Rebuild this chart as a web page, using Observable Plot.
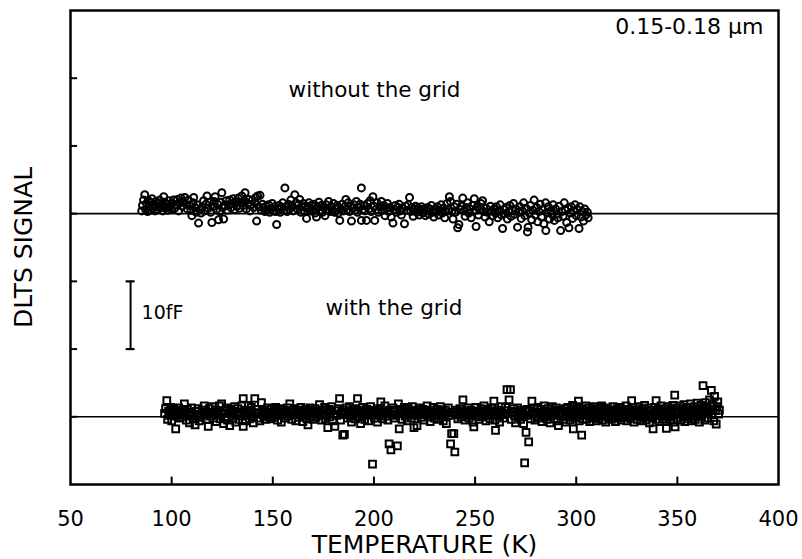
<!DOCTYPE html>
<html><head><meta charset="utf-8">
<script src="https://cdn.jsdelivr.net/npm/d3@7"></script>
<script src="https://cdn.jsdelivr.net/npm/@observablehq/plot@0.6"></script>
<style>html,body{margin:0;padding:0;background:#fff;} svg{display:block;}</style>
</head><body><div id="chart"></div>
<script>
// Temperature axis ticks (K)
const tempTicks = [50, 100, 150, 200, 250, 300, 350, 400];
const innerTempTicks = [100, 150, 200, 250, 300, 350];
// Signal ticks (fF, arbitrary offset; 10 fF per division)
const signalTicks = [10, 20, 30, 40, 50, 60];
// Baselines of the two traces (fF)
const baselineWithout = 40;
const baselineWith = 10;
const baselines = [baselineWithout, baselineWith];
// Scale bar: 10 fF
const scaleBarLow = 20, scaleBarHigh = 30;

// [temperature K, signal offset fF] — without the grid (circles)
const withoutGrid = [
[85.2,0.4],[85.6,1.2],[86.1,2.0],[86.7,2.8],[87.2,0.6],[87.6,1.5],[88.1,0.3],[88.5,1.9],[89.0,1.1],[89.4,0.5],[89.9,1.6],[90.3,2.2],[90.8,0.8],[91.3,1.3],[91.8,0.4],[92.2,1.8],[92.7,1.0],[93.2,0.6],[93.6,1.5],[94.1,2.0],[94.6,0.9],[95.1,1.3],[95.6,0.4],[96.1,2.5],[96.6,1.7],[97.1,0.8],[97.6,1.4],[98.1,0.5],[98.6,1.9],[99.2,1.0],[99.8,0.6],
[100.3,1.5],[100.9,2.0],[101.5,0.8],[102.1,1.3],[102.8,2.1],[103.4,0.4],[104.0,1.6],[104.6,2.3],[105.2,1.1],[105.8,1.8],[106.5,2.4],[107.1,1.4],[107.7,0.7],[108.3,2.0],[108.9,1.2],[109.5,0.5],[110.0,-0.3],[110.6,1.6],[110.9,2.4],[111.5,0.9],[112.1,0.2],
[112.7,1.3],[113.3,-1.4],[113.9,0.6],[114.5,0.1],[115.1,1.0],[115.8,1.9],[116.4,0.4],[117.0,1.4],[117.5,2.6],[118.1,0.8],[118.7,1.7],[119.3,0.2],[119.9,-1.3],[120.5,1.1],[121.0,1.8],[121.5,2.5],[122.1,0.6],[122.7,1.4],[123.2,-0.9],[123.8,0.3],[124.3,1.7],[124.8,3.1],[125.3,0.9],[125.7,-0.8],[126.3,1.2],
[126.9,1.9],[127.5,0.5],[128.1,1.3],[128.7,2.0],[129.3,0.9],[129.9,1.5],[130.5,2.2],[131.1,0.6],[131.7,1.8],[132.3,1.1],[132.9,2.3],[133.5,0.8],[134.1,1.6],[134.7,2.6],[135.3,1.2],[135.9,1.9],[136.3,3.1],[136.9,0.7],[137.5,1.5],[138.1,2.1],[138.7,0.4],[139.3,1.3],[139.9,2.0],[140.5,0.9],[141.1,1.6],[141.6,2.4],[142.0,-1.1],[142.5,2.6],[143.1,1.0],[143.7,2.7],[144.3,0.5],[144.9,1.4],
[145.5,0.9],[146.1,0.3],[146.7,1.1],[147.3,0.6],[147.9,1.3],[148.5,0.2],[149.1,0.8],[149.7,1.5],[150.3,0.4],[150.9,1.0],[151.5,0.3],[151.9,-1.6],[152.5,0.7],[153.1,1.2],[153.7,0.2],[154.3,0.9],[154.9,1.6],[155.5,0.5],[156.0,3.8],[156.5,1.0],[157.1,0.3],[157.7,1.4],[158.3,0.7],[158.9,2.0],[159.5,1.1],[160.1,0.4],[160.9,2.8],[161.5,1.6],[162.1,0.7],[162.7,1.3],[163.3,2.1],[163.9,0.2],[164.5,1.0],
[165.1,1.5],[165.7,0.3],[166.3,1.1],[166.7,-0.7],[167.3,0.8],[167.9,1.6],[168.5,0.4],[169.1,1.2],[169.7,0.6],[170.3,1.4],[170.9,0.1],[171.6,-0.5],[172.2,1.0],[172.8,1.7],[173.4,0.5],[174.0,1.2],[174.6,0.2],[175.2,0.9],[175.8,-0.3],[176.4,1.3],[177.0,0.6],[177.6,1.8],[178.2,0.3],[178.8,1.0],[179.4,0.5],[180.0,1.5],[180.6,0.2],[181.2,0.8],[181.8,1.2],[182.4,0.1],[183.1,-1.0],[183.7,0.7],[184.3,1.4],[184.9,0.4],[185.5,1.0],[186.1,2.1],[186.7,0.6],[187.3,1.6],[187.9,0.3],[188.5,1.1],[188.9,-1.1],[189.5,0.8],[190.1,1.3],[190.7,0.5],[191.3,1.8],[191.9,0.2],[192.5,0.9],[193.1,1.4],[193.8,3.8],[193.8,-1.0],[194.4,0.6],[195.0,1.2],
[195.6,0.4],[196.3,-1.0],[196.9,1.5],[197.5,0.7],[198.1,1.9],[198.7,0.3],[199.5,2.5],[200.0,1.1],[200.4,-1.0],[201.0,0.6],[201.6,1.6],[202.2,0.2],[202.8,1.0],[203.7,1.8],[204.3,0.5],[204.9,1.2],[205.5,-0.3],[206.1,0.8],[206.7,1.5],[207.3,0.3],[207.9,0.9],[208.5,-0.5],[209.4,-1.4],[210.0,0.6],[210.6,1.2],[211.2,0.2],[211.8,0.9],[212.4,1.4],[213.0,0.4],[213.6,-0.2],[214.2,0.8],[215.1,-1.5],[215.7,1.1],[216.3,0.5],[216.9,1.3],[217.6,2.4],[218.2,0.3],[218.8,0.9],[219.4,-0.4],[220.0,0.6],
[220.6,1.1],[221.2,0.2],[221.8,0.8],[222.4,-0.2],[223.0,0.5],[223.6,1.0],[224.2,0.1],[224.8,0.7],[225.4,-0.3],[226.0,0.4],[226.6,0.9],[227.2,-0.1],[227.8,0.6],[228.4,1.2],[229.0,0.2],[229.6,-0.5],[230.2,0.7],[230.8,0.3],[231.4,1.0],[232.0,-0.2],[232.6,0.5],[233.2,1.3],[233.8,0.1],[234.4,0.8],[235.0,-0.6],[235.6,0.4],[236.2,1.5],[236.8,0.6],[237.3,2.5],[237.9,1.8],[238.5,0.3],[239.1,-0.8],[239.7,1.0],[240.3,0.2],[240.9,1.4],[241.4,-2.1],[242.0,-1.6],[242.6,0.6],[243.2,1.1],[243.9,2.3],[244.5,0.4],[245.1,-0.4],
[245.7,0.9],[246.3,1.6],[246.9,0.1],[247.5,0.7],[248.1,-0.6],[248.7,1.2],[249.6,2.2],[250.2,0.5],[250.5,-1.9],[251.1,1.0],[251.7,-0.2],[252.3,0.6],[252.9,1.5],[253.7,1.9],[254.3,0.3],[254.9,-0.5],[255.5,0.8],[256.1,0.2],[257.0,-1.2],[257.6,1.1],[258.2,0.4],[258.8,-0.3],[259.4,0.7],[260.0,0.1],[260.6,1.0],[261.2,-0.6],[261.8,0.5],[262.4,1.3],[263.0,-0.2],[263.6,-2.2],[264.2,0.6],[264.8,0.0],[265.4,0.9],[266.0,-0.8],[266.6,0.3],[267.2,1.2],[267.8,-0.4],[268.4,0.5],[269.0,1.5],[269.6,-0.1],[270.2,0.7],
[271.0,-2.0],[271.6,0.2],[272.2,1.0],[272.8,-0.7],[273.4,0.4],[274.0,1.6],[274.6,-0.3],[275.2,0.8],[275.9,-2.7],[276.2,-2.0],[276.8,0.1],[277.4,1.2],[278.0,-0.9],[278.6,0.5],[279.2,2.0],[279.8,-0.2],[280.4,0.9],[281.0,-1.2],[281.6,0.3],[282.2,1.4],[282.8,-0.5],[283.4,0.6],[284.0,-1.5],[284.9,1.6],[285.0,-2.5],[285.6,0.2],[286.2,1.0],[286.8,-0.8],[287.4,0.4],[288.0,-0.1],[288.6,1.3],[289.2,-1.0],[289.8,0.7],[290.4,0.0],[291.0,-0.6],[291.6,1.1],[292.3,-2.5],[292.9,0.3],[293.5,-0.4],[294.1,1.6],[294.7,0.5],[295.3,-1.3],[295.9,0.8],[296.4,-2.1],[297.0,0.1],[297.6,1.0],[298.2,-0.7],[298.8,0.4],[299.4,1.3],[300.0,-0.3],[300.6,0.6],[301.4,-2.2],[301.8,1.0],[302.4,-0.5],[303.0,0.3],[303.6,-1.1],[304.2,0.7],[304.8,-0.2],[305.5,0.2],[305.9,-0.6]
];

// [temperature K, signal offset fF] — with the grid (squares)
const withGrid = [
[96.5,0.5],[97.0,1.2],[97.6,2.4],[98.0,-0.4],[98.5,0.8],[99.0,0.2],[99.5,1.4],[100.0,-0.6],[100.5,0.7],[101.0,1.1],[101.5,0.1],[102.0,-1.8],[102.5,0.9],[103.0,0.3],[103.5,1.3],[104.0,-0.2],[104.5,0.6],[105.0,1.0],[105.5,0.0],[106.3,1.9],[106.8,0.5],[107.3,-0.5],[107.8,1.1],[108.3,0.3],[108.8,-0.9],[109.3,0.7],[109.8,1.3],[110.3,0.2],[110.8,-0.3],[111.6,-1.2],[112.1,0.8],[112.6,0.1],[113.1,1.2],[113.6,-0.6],[114.1,0.4],[114.6,-0.1],[115.1,1.0],[116.1,1.6],[116.6,0.3],[117.1,-0.4],[117.6,0.7],[118.1,-1.4],[118.6,1.2],[119.1,0.1],[119.6,0.6],
[120.1,1.5],[120.6,-0.2],[121.1,0.4],[121.6,1.0],[122.1,-0.7],[122.6,0.2],[123.1,0.8],[123.6,1.6],[124.1,-0.3],[124.7,1.9],[125.2,0.5],[125.7,-1.0],[126.2,0.9],[126.7,0.0],[127.2,1.3],[127.7,-0.5],[128.2,0.6],[128.7,-1.3],[129.2,1.1],[129.7,0.3],[130.2,-0.2],[130.7,0.8],[131.2,1.5],[131.7,-0.8],[132.2,0.4],[132.7,1.2],[133.2,-0.4],[133.7,0.7],[134.2,0.1],[134.7,1.6],[135.4,2.7],[135.4,-1.4],[135.9,0.5],[136.4,-0.6],[136.9,1.0],[137.4,0.2],[137.9,1.7],[138.4,-0.3],[138.9,0.9],[139.4,1.4],[139.9,0.0],[140.4,-0.9],[141.1,2.7],[141.6,0.6],[142.1,1.1],[142.6,-0.2],[143.1,0.4],[143.6,-0.6],[144.4,2.1],[144.9,0.8],
[145.4,0.2],[145.9,1.0],[146.4,-0.4],[146.9,0.6],[147.4,1.3],[147.9,0.0],[148.4,0.7],[148.9,-0.3],[149.4,1.1],[149.9,0.4],[150.4,-0.1],[150.9,0.9],[151.4,1.4],[151.9,0.2],[152.4,-0.5],[152.9,0.7],[153.4,1.2],[154.2,-0.8],[154.7,0.3],[155.2,1.0],[155.7,0.5],[156.2,-0.2],[156.7,0.8],[157.2,1.3],[157.7,0.1],[158.4,1.9],[158.9,0.6],[159.4,-0.4],[159.9,0.9],[160.4,0.3],[160.9,1.2],[161.4,-0.6],[161.9,0.5],[162.4,1.0],[162.9,-0.1],[163.4,0.7],[163.9,1.4],[164.4,0.2],[164.9,-0.7],[165.4,0.8],[165.9,0.4],[166.4,1.1],[166.9,-0.3],[167.4,-1.2],[167.9,0.6],[168.4,1.3],[168.9,0.1],[169.4,0.9],[169.9,-0.4],
[170.4,0.5],[170.9,1.2],[171.4,-0.1],[171.9,0.7],[172.4,0.3],[173.1,1.8],[173.6,0.4],[174.1,-0.5],[174.6,1.0],[175.1,0.2],[175.6,1.4],[176.1,-0.3],[176.6,0.6],[177.2,-1.6],[177.7,1.1],[178.2,0.0],[178.7,0.8],[179.2,1.5],[179.7,-0.6],[180.2,0.4],[180.7,-1.4],[181.2,0.9],[181.7,0.2],[182.2,1.2],[183.0,2.7],[183.5,-0.5],[184.0,0.6],[184.6,-2.7],[185.0,1.0],[185.4,-2.6],[185.9,0.3],[186.4,1.3],[186.9,-0.2],[187.4,0.7],[187.9,1.5],[188.4,0.1],[188.9,-0.8],[189.4,0.9],[189.9,0.4],[190.4,1.2],[190.9,-0.3],[191.4,0.6],[191.9,2.7],[192.4,1.0],[192.9,0.0],[193.4,-1.0],[193.9,0.8],[194.4,1.4],[194.9,0.3],
[195.4,-0.4],[195.9,0.7],[196.4,1.1],[196.9,0.2],[197.4,-0.6],[197.9,0.9],[198.4,1.5],[198.9,0.4],[199.3,-7.0],[199.8,0.6],[200.3,-0.2],[200.8,1.0],[201.3,0.3],[201.8,-0.8],[202.3,0.8],[202.8,1.2],[203.4,2.2],[203.9,0.5],[204.4,-0.3],[204.9,0.9],[205.4,1.6],[205.9,0.1],[206.4,0.7],[206.9,-0.5],[207.5,-4.0],[208.0,1.0],[208.4,-4.9],[208.9,0.4],[209.4,1.3],[209.9,-0.2],[210.4,0.8],[210.9,0.2],[211.6,-4.3],[212.1,1.9],[212.5,-1.8],[213.0,0.6],[213.5,1.1],[214.0,-0.4],[214.5,0.5],[215.0,1.4],[215.5,0.1],[216.0,0.8],[216.5,-0.6],[217.0,1.2],[217.5,0.3],[218.0,0.9],[218.5,-0.2],[219.0,1.5],[219.8,-1.6],
[220.3,0.7],[220.8,0.2],[221.3,-1.3],[221.8,1.0],[222.3,0.4],[222.8,1.3],[223.3,-0.1],[223.8,0.6],[224.3,1.1],[224.8,-0.5],[225.3,0.3],[225.8,0.9],[226.3,1.6],[226.8,0.0],[227.3,0.6],[227.8,-0.7],[228.3,1.0],[228.8,0.4],[229.3,1.4],[229.8,-0.2],[230.3,0.7],[230.8,0.2],[231.3,1.1],[231.8,-0.4],[232.3,0.5],[232.8,1.5],[233.3,0.1],[233.8,0.8],[234.3,-0.6],[234.8,0.4],[235.3,1.0],[235.8,-1.0],[236.3,0.6],[236.8,1.3],[237.3,0.2],[237.9,-4.0],[238.4,-2.5],[238.9,0.7],[239.5,-2.5],[240.0,-5.2],[240.5,0.3],[241.0,1.0],[241.5,-0.3],[242.0,0.6],[242.5,1.2],[243.0,0.0],[243.5,0.8],[244.0,2.5],[244.5,0.4],[245.0,-0.5],
[245.5,0.9],[246.0,0.2],[246.5,1.3],[247.0,-0.2],[247.5,0.6],[248.0,1.0],[248.5,0.3],[249.0,-0.8],[249.4,-1.5],[249.9,0.7],[250.4,1.4],[250.9,0.1],[251.4,0.8],[251.9,-0.4],[252.4,0.5],[252.9,1.2],[253.4,0.0],[253.9,0.9],[254.4,1.6],[254.9,0.3],[255.4,-0.6],[255.9,0.7],[256.4,1.1],[256.9,0.2],[257.4,-0.3],[257.9,0.8],[258.4,1.3],[258.9,0.4],[259.3,2.3],[259.8,-0.5],[260.1,-2.0],[260.6,0.6],[261.1,1.0],[261.6,0.1],[262.1,-0.8],[262.6,0.7],[263.1,1.5],[263.6,0.3],[264.1,-0.2],[264.6,0.9],[265.1,1.4],[265.8,4.0],[266.3,0.5],[266.8,2.5],[267.5,4.0],[268.0,-0.4],[268.5,0.8],[269.0,1.2],[269.5,0.2],[270.0,-0.9],
[270.5,0.6],[271.0,1.3],[271.5,0.0],[272.0,0.7],[272.5,-0.4],[273.0,1.0],[273.5,0.3],[274.0,-1.0],[274.5,-6.8],[274.8,0.8],[275.2,-2.3],[275.7,1.1],[276.2,0.2],[276.5,-3.7],[277.0,0.9],[277.5,-0.3],[278.1,2.3],[278.6,0.5],[279.1,1.2],[279.6,-0.5],[280.1,0.7],[280.6,0.1],[281.1,1.4],[281.6,-0.2],[282.1,0.6],[282.6,1.1],[283.1,-0.7],[283.6,0.4],[284.1,1.6],[284.6,0.0],[285.1,0.8],[285.6,-0.4],[286.1,1.2],[286.6,0.3],[287.1,-0.9],[287.6,0.7],[288.1,1.5],[288.6,0.2],[289.1,-0.3],[289.6,0.9],[290.1,1.3],[290.6,-0.6],[291.2,-1.3],[291.7,0.5],[292.2,1.0],[292.7,0.1],[293.2,0.7],[293.7,-0.4],[294.2,1.2],[294.7,0.4],
[295.0,-0.8],[295.4,0.6],[295.8,1.4],[296.2,0.0],[296.6,0.8],[297.0,-0.5],[297.4,1.1],[297.8,0.3],[298.2,1.7],[298.6,-1.8],[299.0,0.5],[299.4,-0.2],[299.8,0.9],[300.2,1.5],[300.6,0.1],[301.1,2.3],[301.5,-0.6],[301.9,0.7],[302.3,1.2],[302.7,-2.7],[303.1,0.3],[303.5,-0.3],[303.9,1.0],[304.3,0.5],[304.7,1.6],[305.1,-0.4],[305.5,0.8],[305.9,0.2],[306.3,1.3],[306.7,-0.7],[307.1,0.6],[307.5,1.0],[307.9,-0.2],[308.3,0.4],[308.7,1.5],[309.1,0.0],[309.5,0.8],[309.9,-0.6],[310.3,1.2],[310.7,0.3],[311.1,-0.3],[311.5,0.9],[311.9,1.4],[312.3,0.1],[312.6,1.6],[313.0,-0.5],[313.4,0.7],[313.8,0.2],[314.2,1.1],[314.6,-0.8],[315.0,0.5],[315.4,1.3],[315.8,-0.1],[316.2,0.8],[316.6,0.3],[317.0,1.0],[317.4,-0.4],[317.8,0.6],[318.2,1.5],[318.6,0.0],[319.0,0.9],[319.4,-0.7],[319.8,0.4],
[320.2,1.2],[320.6,-0.2],[321.0,0.7],[321.4,0.2],[321.8,1.4],[322.2,-0.5],[322.6,0.5],[323.0,1.0],[323.4,-0.1],[323.8,0.8],[324.2,0.3],[324.6,1.6],[325.0,-0.6],[325.4,0.6],[325.8,1.1],[326.2,0.0],[326.6,0.9],[327.0,-0.3],[327.4,2.4],[327.8,0.4],[328.2,1.3],[328.6,-0.8],[329.0,0.7],[329.4,0.1],[329.8,1.0],[330.2,-0.4],[330.6,0.5],[331.0,1.5],[331.4,0.2],[331.8,-0.6],[332.2,0.8],[332.6,1.2],[333.0,-0.1],[333.4,0.6],[333.8,1.7],[334.2,0.3],[334.6,-0.5],[335.0,0.9],[335.4,0.0],[335.8,1.3],[336.2,-0.9],[336.6,0.4],[337.0,1.0],[337.4,-0.2],[338.0,-1.8],[338.4,0.7],[338.8,1.4],[339.2,0.2],[339.5,2.4],[339.9,-0.4],[340.3,0.8],[340.7,1.1],[341.1,-0.7],[341.5,0.5],[341.9,1.6],[342.3,0.1],[342.7,-0.3],[343.1,0.9],[343.5,0.4],[343.9,1.2],[344.3,-0.6],[344.6,-1.7],
[345.0,0.6],[345.4,1.5],[345.8,0.0],[346.2,0.8],[346.6,-0.4],[347.0,1.1],[347.4,0.3],[347.8,1.7],[348.2,-0.8],[348.7,3.2],[348.9,-1.5],[349.3,0.6],[349.7,1.3],[350.1,-0.2],[350.5,0.9],[350.9,0.4],[351.3,1.6],[351.7,-0.5],[352.1,0.7],[352.5,1.2],[352.9,0.0],[353.3,1.8],[353.7,-0.7],[354.1,0.5],[354.5,1.0],[354.9,-0.3],[355.3,1.4],[355.7,0.2],[356.1,0.8],[356.5,1.9],[356.9,-0.6],[357.3,0.6],[357.7,1.1],[358.1,0.0],[358.5,1.5],[358.9,-0.4],[359.3,0.9],[359.7,2.0],[360.1,0.3],[360.5,1.2],[360.9,-0.8],[361.3,0.7],[361.7,1.7],[362.1,0.1],[362.7,4.6],[363.1,1.0],[363.5,-0.5],[363.9,2.1],[364.3,0.5],[364.7,1.4],[365.1,-0.2],[365.5,0.8],[365.9,2.5],[366.3,1.1],[366.8,3.9],[367.2,0.3],[367.6,1.8],[368.0,-0.6],[368.4,3.0],[368.8,0.9],[369.2,-1.1],[369.6,1.5],[370.0,2.2],[370.4,0.4],[370.8,1.0]
];

const FONT = "DejaVu Sans, sans-serif";

const chart = Plot.plot({
  width: 802,
  height: 559,
  marginLeft: 70,
  marginRight: 24,
  marginTop: 10,
  marginBottom: 75,
  style: {fontFamily: FONT, background: "white", color: "black", overflow: "visible"},
  x: {domain: [50, 400]},
  y: {domain: [0, 70], axis: null},
  marks: [
    Plot.ruleY(baselines, {stroke: "black", strokeWidth: 1.6}),
    Plot.dot(withoutGrid, {x: d => d[0], y: d => baselineWithout + d[1], r: 3.5, stroke: "black", strokeWidth: 2, fill: "none"}),
    Plot.dot(withGrid, {x: d => d[0], y: d => baselineWith + d[1], symbol: "square", r: 3.8, stroke: "black", strokeWidth: 2, fill: "none"}),
    // inward ticks
    Plot.ruleX(innerTempTicks, {y1: 0, y2: 1.1, stroke: "black", strokeWidth: 2}),
    Plot.ruleY(signalTicks, {x1: 50, x2: 53.5, stroke: "black", strokeWidth: 2}),
    // tick labels
    Plot.axisX({ticks: tempTicks, tickSize: 0, tickPadding: 27, fontSize: 21, label: null}),
    Plot.text(["TEMPERATURE (K)"], {frameAnchor: "bottom", dy: 60, fontSize: 25, lineAnchor: "middle", textAnchor: "middle", fill: "black"}),
    Plot.text(["DLTS SIGNAL"], {frameAnchor: "left", dx: -47, rotate: -90, fontSize: 25, textAnchor: "middle", lineAnchor: "middle", fill: "black"}),
    Plot.text(["0.15-0.18 \u03bcm"], {frameAnchor: "top-right", dx: -15, dy: 16.5, fontSize: 22, textAnchor: "end", lineAnchor: "middle", fill: "black"}),
    Plot.text(["without the grid"], {x: 200.3, y: 58.3, fontSize: 21.5, textAnchor: "middle", lineAnchor: "middle", fill: "black"}),
    Plot.text(["with the grid"], {x: 209.9, y: 26.1, fontSize: 21.5, textAnchor: "middle", lineAnchor: "middle", fill: "black"}),
    // 10 fF scale bar
    Plot.ruleX([79.7], {y1: scaleBarLow, y2: scaleBarHigh, stroke: "black", strokeWidth: 2}),
    Plot.ruleY([scaleBarLow, scaleBarHigh], {x1: 77.5, x2: 81.9, stroke: "black", strokeWidth: 2.2}),
    Plot.text(["10fF"], {x: 79.7, y: 25.3, dx: 11, fontSize: 19, textAnchor: "start", lineAnchor: "middle", fill: "black"}),
    Plot.frame({stroke: "black", strokeWidth: 2.5})
  ]
});
document.getElementById("chart").appendChild(chart);
</script>
</body></html>
